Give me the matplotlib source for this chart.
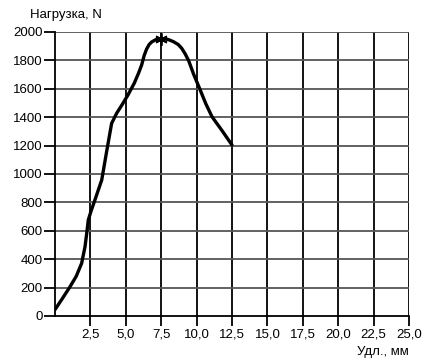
import matplotlib.pyplot as plt
import numpy as np

plt.rcParams['font.family'] = ['Liberation Sans', 'DejaVu Sans']

# curve
udl = [0.0, 0.5, 1.06, 1.5, 1.88, 2.12, 2.25, 2.35, 2.55, 2.82, 3.3, 3.65, 4.0, 4.35,
       4.75, 5.15, 5.6, 5.9, 6.12, 6.3, 6.47, 6.65, 6.83, 7.1, 7.53, 8.0, 8.36, 8.7,
       8.95, 9.2, 9.45, 9.8, 10.2, 10.65, 11.09, 11.8, 12.5]
load = [45, 120, 206, 280, 371, 488, 590, 676, 740, 817, 958, 1160, 1357, 1427,
        1490, 1556, 1640, 1710, 1768, 1835, 1880, 1912, 1930, 1945, 1955, 1947, 1932, 1912,
        1885, 1845, 1795, 1700, 1605, 1495, 1403, 1305, 1204]
peak_x = [7.5]
peak_y = [1950]

xticks = [2.5, 5.0, 7.5, 10.0, 12.5, 15.0, 17.5, 20.0, 22.5, 25.0]
xlabels = ['2,5', '5,0', '7,5', '10,0', '12,5', '15,0', '17,5', '20,0', '22,5', '25,0']
yticks = [0, 200, 400, 600, 800, 1000, 1200, 1400, 1600, 1800, 2000]

fig = plt.figure(figsize=(4.24, 3.64), dpi=100)
ax = fig.add_axes([55/424, 1 - 316/364, 354/424, 284/364])

# grid
for x in xticks:
    ax.axvline(x, color='black', lw=1.3, zorder=1)
for y in yticks[1:]:
    ax.axhline(y, color='#555555', lw=1.3, zorder=1)

ax.plot(udl, load, color='black', lw=2.4, zorder=3, solid_capstyle='round',
        solid_joinstyle='round')
ax.plot(peak_x, peak_y, marker=(6, 2, 0), color='black', ms=9, mew=1.3, zorder=4)

ax.set_xlim(0, 25)
ax.set_ylim(0, 2000)
ax.set_xticks(xticks)
ax.set_xticklabels(xlabels)
ax.set_yticks(yticks)
ax.tick_params(axis='x', direction='out', length=7, width=1.3, labelsize=9.5, pad=2)
ax.tick_params(axis='y', direction='out', length=8, width=1.3, labelsize=9.5, pad=1)
for s in ['top', 'right']:
    ax.spines[s].set_visible(False)
for s in ['left', 'bottom']:
    ax.spines[s].set_linewidth(1.3)

fig.text(30/424, 1 - 15/364, 'Нагрузка, N', fontsize=9.5, va='center', ha='left')
fig.text(409/424, 1 - 352/364, 'Удл., мм', fontsize=9.5, va='center', ha='right')

fig.savefig('out.png', dpi=100)
